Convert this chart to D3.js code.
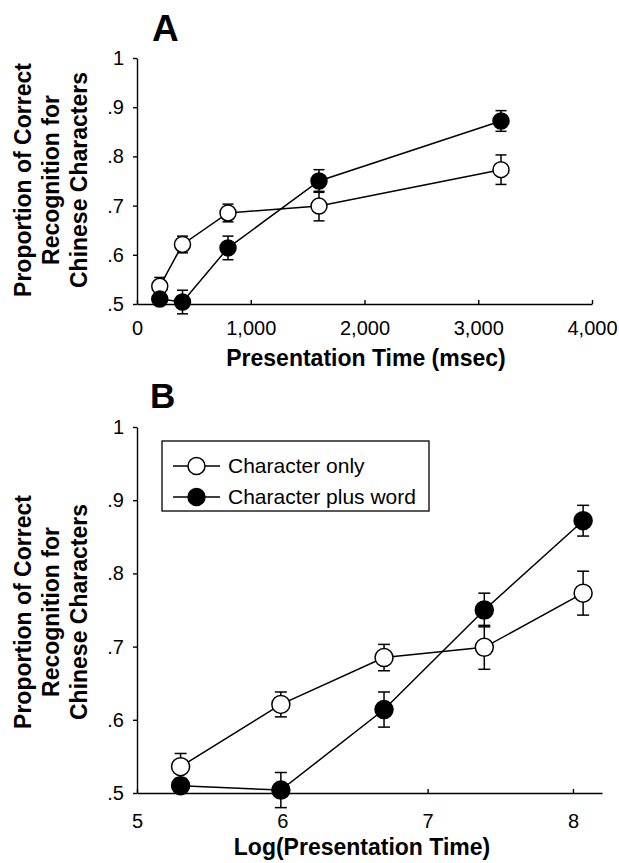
<!DOCTYPE html>
<html>
<head>
<meta charset="utf-8">
<script src="https://cdn.jsdelivr.net/npm/d3@7/dist/d3.min.js"></script>
<style>
  body { margin: 0; background: #fff; }
  svg text { font-family: "Liberation Sans", Arial, Helvetica, sans-serif; fill: #000; }
</style>
</head>
<body>
<svg id="chart" width="619" height="863"></svg>
<script>
// Presentation times (msec) and their natural logs
var presentationMs = [200, 400, 800, 1600, 3200];
var logPresentation = [5.30, 5.99, 6.70, 7.39, 8.07];

// Proportion correct, with standard error bars
var charOnly = [0.536, 0.621, 0.685, 0.699, 0.773];
var charOnlyErr = [0.018, 0.017, 0.018, 0.030, 0.030];
var charPlusWord = [0.510, 0.504, 0.614, 0.750, 0.872];
var charPlusWordErr = [0.010, 0.024, 0.024, 0.023, 0.021];

var seriesNames = ["Character only", "Character plus word"];

// Tick values and labels
var yTicks = [0.5, 0.6, 0.7, 0.8, 0.9, 1];
var yTickLabels = [".5", ".6", ".7", ".8", ".9", "1"];
var msTicks = [0, 1000, 2000, 3000, 4000];
var msTickLabels = ["0", "1,000", "2,000", "3,000", "4,000"];
var logTicks = [5, 6, 7, 8];
var logTickLabels = ["5", "6", "7", "8"];

var yTitleLines = ["Proportion of Correct", "Recognition for", "Chinese Characters"];

var svg = d3.select("#chart");

/**
 * Draw one panel: axes, titles, both series with error bars
 */
function drawPanel(opt) {
    var xScale = d3.scaleLinear().domain(opt.xDomain).range(opt.xRange);
    var yScale = d3.scaleLinear().domain([0.5, 1]).range(opt.yRange);

    var g = svg.append("g");

    // y axis, ticks pointing left
    var yAxis = d3.axisLeft(yScale)
        .tickValues(yTicks)
        .tickSize(4)
        .tickSizeOuter(0)
        .tickPadding(9)
        .tickFormat(function (d, i) { return yTickLabels[i]; });
    var yG = g.append("g")
        .attr("transform", "translate(" + opt.xRange[0] + ",0)")
        .call(yAxis);

    // x axis, ticks pointing up into the plot
    var xAxis = d3.axisBottom(xScale)
        .tickValues(opt.xTicks)
        .tickSize(-4)
        .tickSizeOuter(0)
        .tickPadding(opt.xPad)
        .tickFormat(function (d, i) { return opt.xTickLabels[i]; });
    var xG = g.append("g")
        .attr("transform", "translate(0," + opt.yRange[0] + ")")
        .call(xAxis);

    [xG, yG].forEach(function (a) {
        a.attr("font-family", null).attr("font-size", null);
        a.selectAll("path, line").attr("stroke", "#000").attr("stroke-width", 1.4);
        a.selectAll("text").style("font-size", "20px");
    });

    // panel letter
    g.append("text")
        .attr("x", opt.letterX)
        .attr("y", opt.letterY)
        .style("font-size", opt.letterSize + "px")
        .style("font-weight", "bold")
        .text(opt.letter);

    // x title
    g.append("text")
        .attr("x", opt.xTitleX)
        .attr("y", opt.xTitleY)
        .attr("text-anchor", "middle")
        .style("font-size", "23px")
        .style("font-weight", "bold")
        .text(opt.xTitle);

    // y title, three rotated lines
    var midY = opt.yTitleMid;
    yTitleLines.forEach(function (t, i) {
        g.append("text")
            .attr("transform", "translate(" + (31 + i * 28) + "," + midY + ") rotate(-90)")
            .attr("text-anchor", "middle")
            .style("font-size", "23px")
            .style("font-weight", "bold")
            .text(t);
    });

    var series = [
        { vals: charOnly, errs: charOnlyErr, fill: "#fff" },
        { vals: charPlusWord, errs: charPlusWordErr, fill: "#000" }
    ];

    var line = d3.line()
        .x(function (d) { return xScale(d[0]); })
        .y(function (d) { return yScale(d[1]); });

    series.forEach(function (s) {
        var pts = opt.xVals.map(function (x, i) { return [x, s.vals[i], s.errs[i]]; });
        var sg = g.append("g");

        sg.append("path")
            .datum(pts)
            .attr("d", line)
            .attr("fill", "none")
            .attr("stroke", "#000")
            .attr("stroke-width", 1.5);

        // error bars
        var eb = sg.selectAll("g.err")
            .data(pts)
            .enter()
            .append("g")
            .attr("class", "err")
            .attr("stroke", "#000")
            .attr("stroke-width", 1.5);
        eb.append("line")
            .attr("x1", function (d) { return xScale(d[0]); })
            .attr("x2", function (d) { return xScale(d[0]); })
            .attr("y1", function (d) { return yScale(d[1] - d[2]); })
            .attr("y2", function (d) { return yScale(d[1] + d[2]); });
        [1, -1].forEach(function (sign) {
            eb.append("line")
                .attr("x1", function (d) { return xScale(d[0]) - opt.cap; })
                .attr("x2", function (d) { return xScale(d[0]) + opt.cap; })
                .attr("y1", function (d) { return yScale(d[1] + sign * d[2]); })
                .attr("y2", function (d) { return yScale(d[1] + sign * d[2]); });
        });

        sg.selectAll("circle")
            .data(pts)
            .enter()
            .append("circle")
            .attr("cx", function (d) { return xScale(d[0]); })
            .attr("cy", function (d) { return yScale(d[1]); })
            .attr("r", opt.r)
            .attr("fill", s.fill)
            .attr("stroke", "#000")
            .attr("stroke-width", 1.5);
    });
}

drawPanel({
    letter: "A", letterX: 152, letterY: 41, letterSize: 37,
    xDomain: [0, 4000], xRange: [137, 592], yRange: [304, 58],
    xTicks: msTicks, xTickLabels: msTickLabels, xVals: presentationMs, xPad: 17,
    xTitle: "Presentation Time (msec)", xTitleX: 366, xTitleY: 366,
    yTitleMid: 180, r: 8, cap: 5.5
});

drawPanel({
    letter: "B", letterX: 150, letterY: 408, letterSize: 35,
    xDomain: [5, 8.2], xRange: [137, 602], yRange: [793, 427],
    xTicks: logTicks, xTickLabels: logTickLabels, xVals: logPresentation, xPad: 21,
    xTitle: "Log(Presentation Time)", xTitleX: 362, xTitleY: 855,
    yTitleMid: 612, r: 9, cap: 6
});

// Legend for panel B
var legend = svg.append("g").attr("transform", "translate(162,441)");
legend.append("rect")
    .attr("width", 267)
    .attr("height", 70)
    .attr("fill", "#fff")
    .attr("stroke", "#000")
    .attr("stroke-width", 1.3);
var fills = ["#fff", "#000"];
seriesNames.forEach(function (name, i) {
    var y = 25 + i * 31;
    legend.append("line")
        .attr("x1", 11).attr("x2", 58)
        .attr("y1", y).attr("y2", y)
        .attr("stroke", "#000").attr("stroke-width", 1.5);
    legend.append("circle")
        .attr("cx", 34.5).attr("cy", y).attr("r", 8.5)
        .attr("fill", fills[i]).attr("stroke", "#000").attr("stroke-width", 1.5);
    legend.append("text")
        .attr("x", 66).attr("y", y + 7)
        .style("font-size", "21px")
        .text(name);
});
</script>
</body>
</html>
